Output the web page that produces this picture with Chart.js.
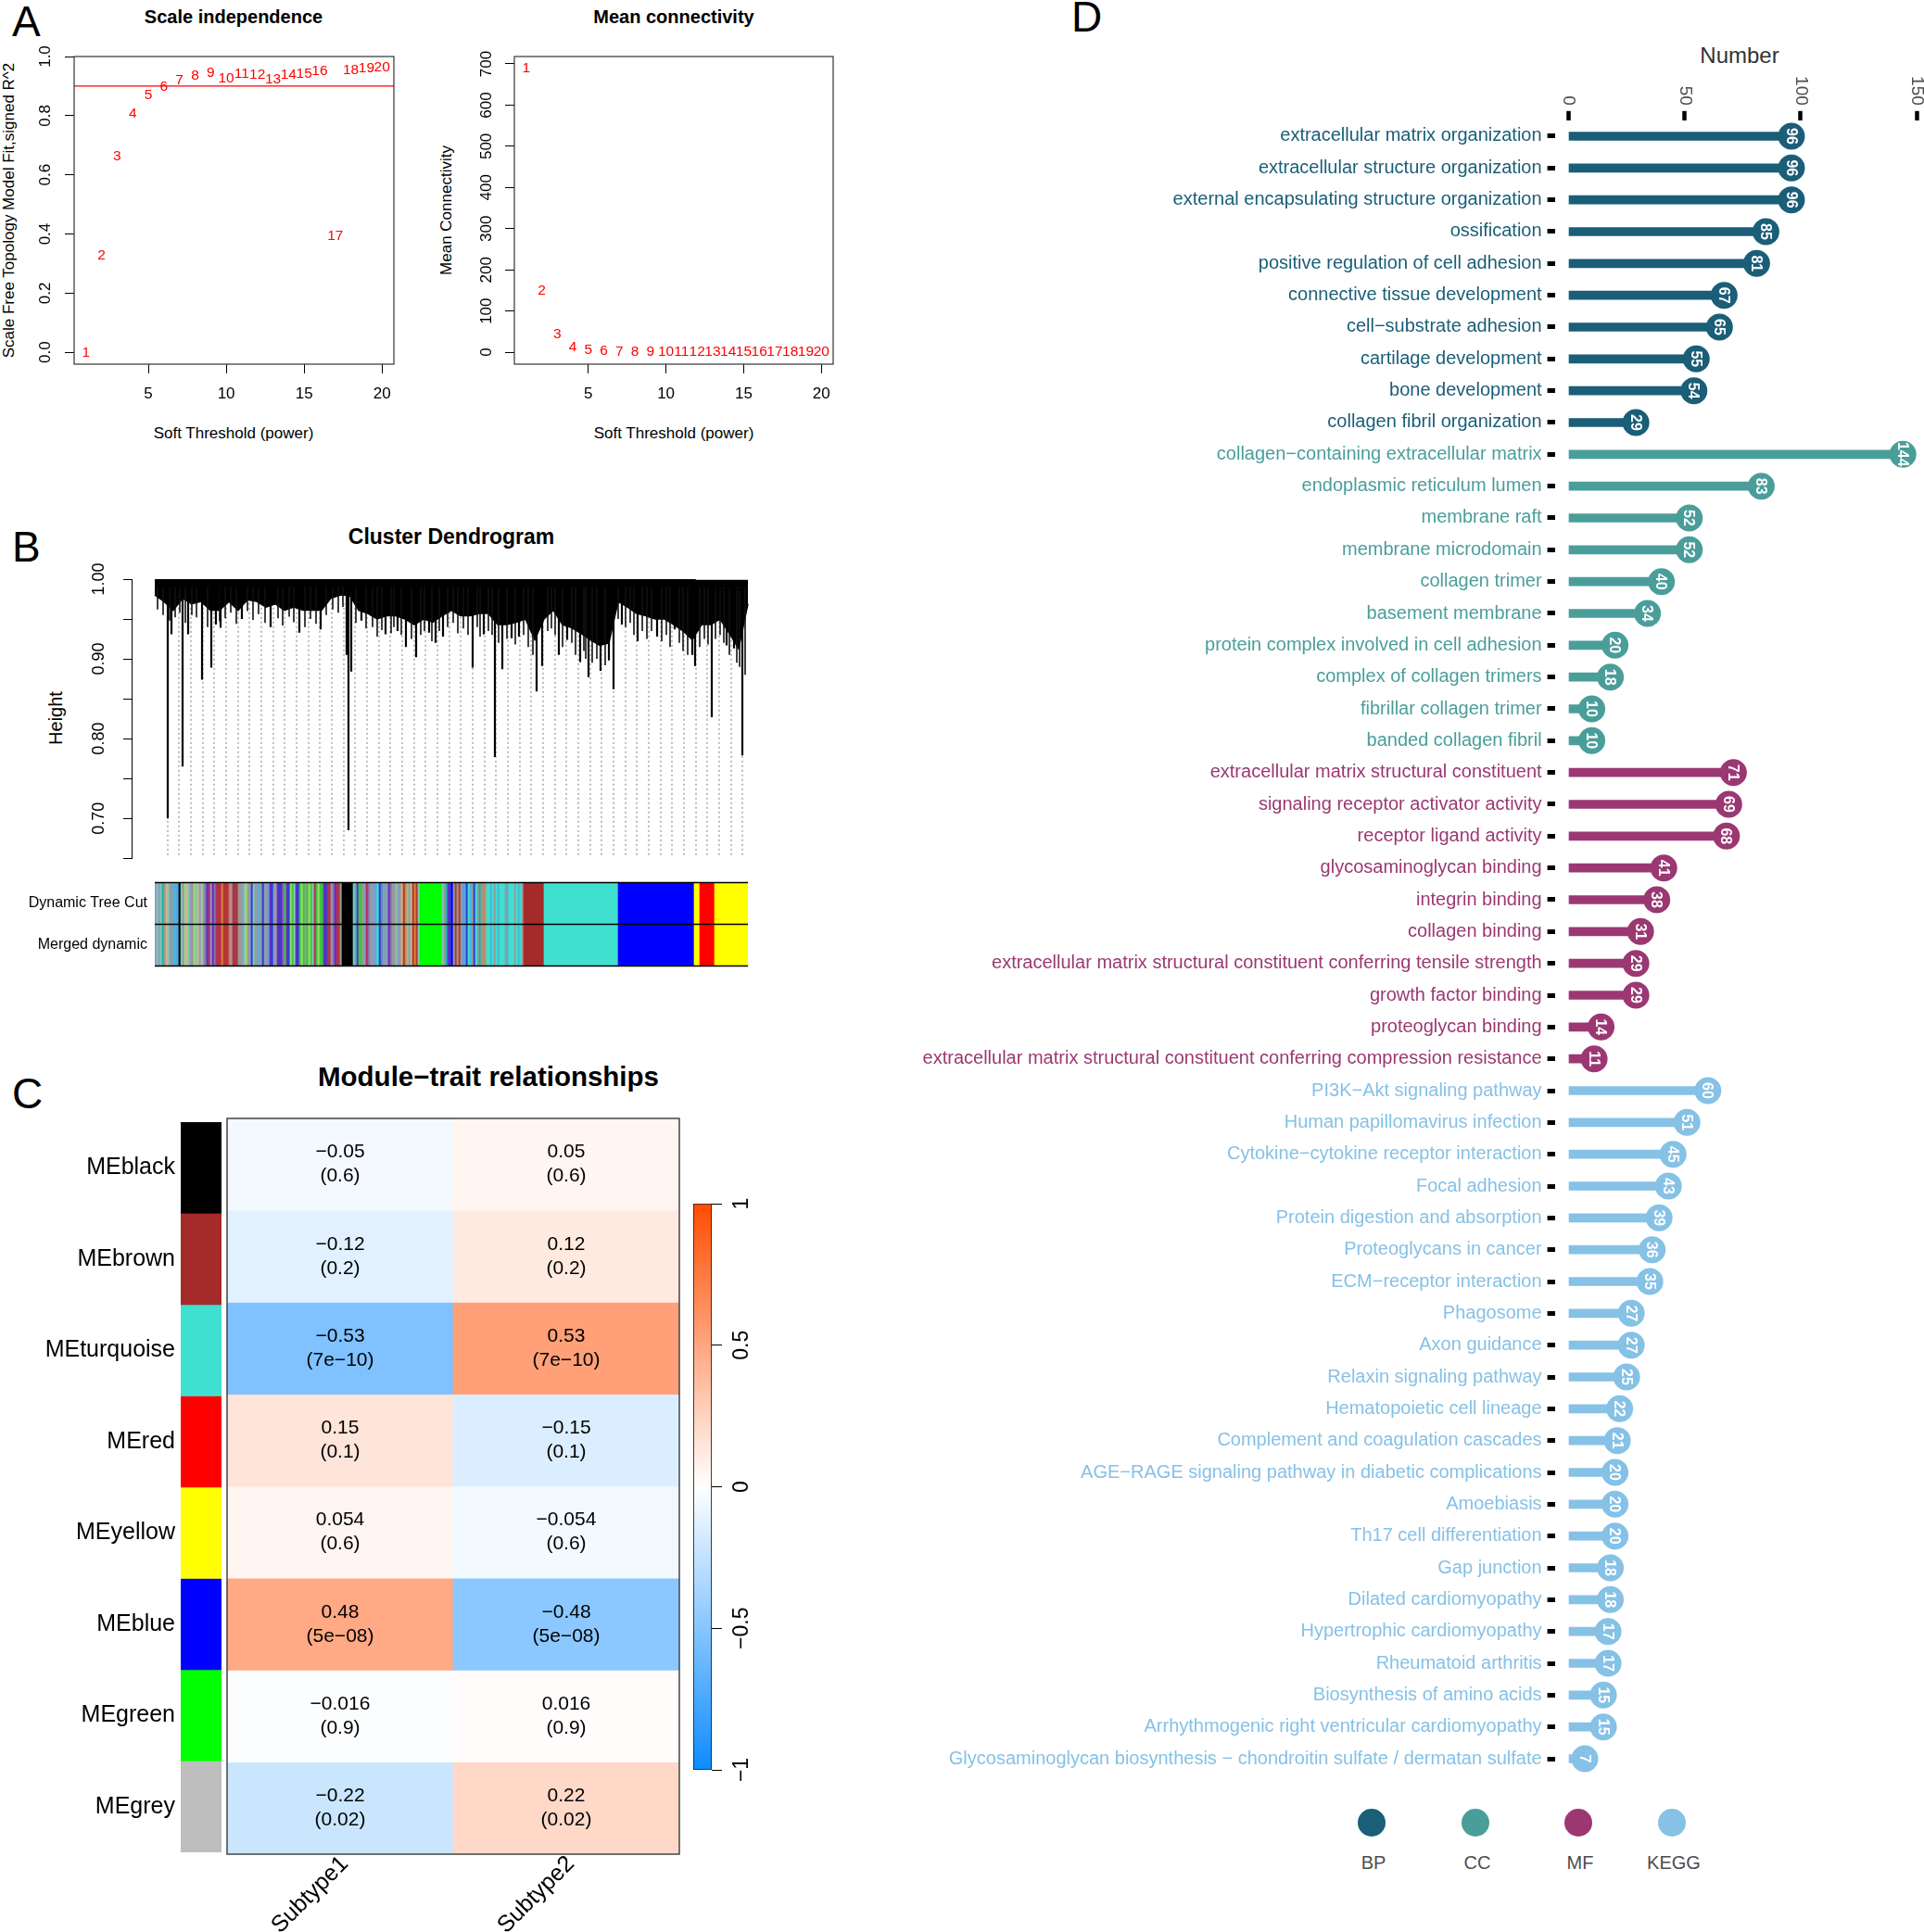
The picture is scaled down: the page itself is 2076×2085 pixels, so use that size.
<!DOCTYPE html>
<html>
<head>
<meta charset="utf-8">
<script src="https://cdn.jsdelivr.net/npm/chart.js@4.4.1/dist/chart.umd.min.js"></script>
<style>
body{margin:0;background:#fff;font-family:"Liberation Sans",Arial,Helvetica,sans-serif;}
#page{position:relative;width:2076px;height:2085px;overflow:hidden;background:#fff;}
canvas{position:absolute;}
.t{position:absolute;white-space:nowrap;line-height:1;color:#000;transform:translate(-50%,-50%);}
.rot{transform:translate(-50%,-50%) rotate(-90deg);}
.letter{position:absolute;font-size:46px;line-height:1;color:#000;}
.dot{position:absolute;width:30px;height:30px;border-radius:50%;transform:translate(-50%,-50%);}
</style>
</head>
<body>
<div id="page">
  <div class="letter" style="left:13px;top:0px">A</div>
  <div class="letter" style="left:13px;top:567px">B</div>
  <div class="letter" style="left:13px;top:1157px">C</div>
  <div class="letter" style="left:1156px;top:-5px">D</div>

  <div class="t" style="left:252px;top:18px;font-size:20px;font-weight:bold">Scale independence</div>
  <div class="t" style="left:727px;top:18px;font-size:20px;font-weight:bold">Mean connectivity</div>
  <div class="t rot" style="left:9px;top:227px;font-size:17px">Scale Free Topology Model Fit,signed R^2</div>
  <div class="t rot" style="left:481px;top:227px;font-size:17px">Mean Connectivity</div>
  <div class="t" style="left:252px;top:467px;font-size:17px">Soft Threshold (power)</div>
  <div class="t" style="left:727px;top:467px;font-size:17px">Soft Threshold (power)</div>

  <div class="t" style="left:487px;top:579px;font-size:23px;font-weight:bold">Cluster Dendrogram</div>
  <div class="t rot" style="left:60px;top:775px;font-size:20px">Height</div>

  <div class="t" style="left:527px;top:1162px;font-size:29.5px;font-weight:bold">Module−trait relationships</div>

  <div class="t" style="left:1877px;top:60px;font-size:24px;color:#333">Number</div>

  <canvas id="a1" width="460" height="500" style="left:0px;top:0px"></canvas>
  <canvas id="a2" width="460" height="500" style="left:475px;top:0px"></canvas>
  <canvas id="bTree" width="830" height="345" style="left:0px;top:600px"></canvas>
  <canvas id="bBars" width="830" height="125" style="left:0px;top:935px"></canvas>
  <canvas id="cSide" width="245" height="830" style="left:0px;top:1190px"></canvas>
  <canvas id="cHeat" width="510" height="895" style="left:240px;top:1190px"></canvas>
  <canvas id="cScale" width="90" height="650" style="left:740px;top:1280px"></canvas>
  <canvas id="dLolli" width="1176" height="1940" style="left:900px;top:0px"></canvas>
  <div id="dLegend"></div>
</div>
<script>
'use strict';
const FONT = '"Liberation Sans", Arial, Helvetica, sans-serif';
Chart.defaults.font.family = FONT;
Chart.defaults.color = '#000';
Chart.defaults.animation = false;
Chart.defaults.plugins.legend.display = false;
Chart.defaults.plugins.tooltip.enabled = false;

// ---------- A: soft threshold ----------
const powers = [1,2,3,4,5,6,7,8,9,10,11,12,13,14,15,16,17,18,19,20];
const sftR2 = [0.0,0.327,0.663,0.808,0.869,0.898,0.921,0.934,0.945,0.927,0.942,0.937,0.924,0.937,0.942,0.951,0.393,0.955,0.961,0.963];
const meanK = [690,150,43,13,6,3,1.5,1.0,0.8,0.6,0.5,0.4,0.3,0.3,0.2,0.2,0.2,0.1,0.1,0.1];
const r2Cutoff = 0.9;
const powerTicks = [5,10,15,20];
const r2Ticks = [0,0.2,0.4,0.6,0.8,1];
const kTicks = [0,100,200,300,400,500,600,700];

// ---------- B: dendrogram ----------
const massX = [0,10,20,30,40,50,60,70,80,90,100,110,120,130,140,150,160,170,180,190,200,210,220,230,240,250,260,270,280,290,300,310,320,330,340,350,360,370,380,390,400,410,420,430,440,450,460,470,480,490,500,510,520,530,540,550,560,570,580,590,600,610,620,630,640];
const massLow = [0.980,0.972,0.961,0.976,0.969,0.972,0.961,0.961,0.972,0.961,
  0.974,0.972,0.965,0.969,0.961,0.965,0.961,0.961,0.961,0.976,
  0.980,0.980,0.961,0.957,0.950,0.954,0.954,0.950,0.943,0.950,
  0.946,0.954,0.961,0.954,0.954,0.957,0.957,0.943,0.943,0.946,
  0.950,0.924,0.950,0.961,0.943,0.939,0.932,0.924,0.917,0.920,
  0.972,0.965,0.957,0.954,0.950,0.950,0.943,0.935,0.924,0.943,
  0.943,0.950,0.932,0.913,0.969];
// long branches hanging below the dense part
const spikeX = [14,18,30,36,51,61,66,71,94,125,156,179,207,209,212,223,249,262,271,282,296,303,311,343,355,367,375,385,393,412,418,436,445,459,468,481,490,495,504,521,542,561,580,583,601,617,625,634];
const spikeLow = [0.700,0.931,0.765,0.931,0.874,0.889,0.943,0.939,0.950,0.940,0.933,0.937,0.905,0.685,0.884,0.948,0.931,0.935,0.915,0.902,0.933,0.920,0.928,0.889,0.931,0.777,0.887,0.926,0.928,0.859,0.891,0.905,0.924,0.896,0.877,0.885,0.898,0.862,0.943,0.922,0.928,0.937,0.905,0.891,0.827,0.917,0.913,0.779];
// short leaves fringing the dense part
const fringeX = [3,9,16,22,27,33,40,45,57,70,76,82,88,100,106,112,119,133,138,145,150,162,168,174,185,192,198,203,217,228,235,240,245,255,258,266,277,287,291,299,307,316,322,327,333,338,348,351,360,364,371,380,389,398,403,408,424,428,432,440,450,454,463,465,472,477,486,500,508,513,517,526,531,536,547,552,556,566,570,575,588,593,597,605,610,614,620,628,631,637];
const fringeLow = [0.962,0.955,0.948,0.952,0.958,0.945,0.955,0.952,0.940,0.947,0.951,0.958,0.944,0.960,0.949,0.956,0.945,0.951,0.942,0.953,0.946,0.940,0.950,0.944,0.955,0.962,0.958,0.965,0.945,0.938,0.940,0.928,0.936,0.932,0.940,0.930,0.925,0.930,0.935,0.922,0.935,0.940,0.945,0.932,0.938,0.930,0.940,0.928,0.935,0.930,0.920,0.925,0.918,0.930,0.915,0.905,0.935,0.938,0.930,0.915,0.920,0.905,0.910,0.900,0.895,0.900,0.892,0.950,0.940,0.945,0.930,0.935,0.925,0.935,0.922,0.930,0.915,0.920,0.910,0.905,0.915,0.925,0.918,0.925,0.930,0.920,0.905,0.895,0.890,0.880];
const mergeX = [0,583,583,601,601,635,635];
const mergeH = [0.999,0.999,0.997,0.997,0.987,0.987,0.976];
const guideX = [14,26,39,52,64,77,90,102,115,128,140,153,166,178,191,204,216,229,242,254,267,280,292,305,318,330,343,356,368,381,394,406,419,432,444,457,470,482,495,508,520,533,546,558,571,584,596,609,622,634];
const heightTicks = [0.65,0.70,0.75,0.80,0.85,0.90,0.95,1.00];
const heightLabels = [0.70,0.80,0.90,1.00];

// module colour strip, one letter = one slice, [letters, repeat]
const stripeRuns = [
  ['acaczyncyaqqskcalncaylcnalavpmapvmrmorrmoarmryyaclyaBcyaqyBayspBaypBpvGpBlGcpBGlGyGlGcmGlGGpBmravpmry', 1],
  ['k', 6],
  ['cqpGGyamvyaaqtBvqyapvyycaynrocynrorc', 1],
  ['g', 12],
  ['cyzpBuyryryssBtqyBtyzyoyttqtytqtttyqtttytqty', 1],
  ['b', 11],
  ['t', 40],
  ['u', 41],
  ['Y', 3],
  ['R', 8],
  ['Y', 18]
];
const stripePalette = {
  a:'#8e9ac0', c:'#80c8b0', n:'#d2b48c', q:'#45b8d8', y:'#9a9a9a', m:'#b03060', r:'#b03a2e',
  o:'#e0803a', p:'#6a2cc0', G:'#3cc83c', B:'#2a3fd8', l:'#a0d870', v:'#8870b0', s:'#5fa0e0',
  z:'#20b2aa', k:'#000000', g:'#00ff00', b:'#a52a2a', t:'#40e0d0', u:'#0000ff', Y:'#ffff00', R:'#ff0000'
};
const stripeRows = ['Merged dynamic', 'Dynamic Tree Cut'];

// ---------- C: module-trait ----------
const moduleNames = ['MEblack','MEbrown','MEturquoise','MEred','MEyellow','MEblue','MEgreen','MEgrey'];
const moduleColors = ['#000000','#a52a2a','#40e0d0','#ff0000','#ffff00','#0000ff','#00ff00','#bebebe'];
const traitNames = ['Subtype1','Subtype2'];
const subtype1Corr = [-0.05,-0.12,-0.53,0.15,0.054,0.48,-0.016,-0.22];
const subtype2Corr = [0.05,0.12,0.53,-0.15,-0.054,-0.48,0.016,0.22];
const modulePValues = ['0.6','0.2','7e-10','0.1','0.6','5e-08','0.9','0.02'];
const scaleTicks = [-1,-0.5,0,0.5,1];

// ---------- D: enrichment ----------
const bpTerms = ['extracellular matrix organization','extracellular structure organization','external encapsulating structure organization','ossification','positive regulation of cell adhesion','connective tissue development','cell−substrate adhesion','cartilage development','bone development','collagen fibril organization'];
const bpCounts = [96,96,96,85,81,67,65,55,54,29];
const ccTerms = ['collagen−containing extracellular matrix','endoplasmic reticulum lumen','membrane raft','membrane microdomain','collagen trimer','basement membrane','protein complex involved in cell adhesion','complex of collagen trimers','fibrillar collagen trimer','banded collagen fibril'];
const ccCounts = [144,83,52,52,40,34,20,18,10,10];
const mfTerms = ['extracellular matrix structural constituent','signaling receptor activator activity','receptor ligand activity','glycosaminoglycan binding','integrin binding','collagen binding','extracellular matrix structural constituent conferring tensile strength','growth factor binding','proteoglycan binding','extracellular matrix structural constituent conferring compression resistance'];
const mfCounts = [71,69,68,41,38,31,29,29,14,11];
const keggTerms = ['PI3K−Akt signaling pathway','Human papillomavirus infection','Cytokine−cytokine receptor interaction','Focal adhesion','Protein digestion and absorption','Proteoglycans in cancer','ECM−receptor interaction','Phagosome','Axon guidance','Relaxin signaling pathway','Hematopoietic cell lineage','Complement and coagulation cascades','AGE−RAGE signaling pathway in diabetic complications','Amoebiasis','Th17 cell differentiation','Gap junction','Dilated cardiomyopathy','Hypertrophic cardiomyopathy','Rheumatoid arthritis','Biosynthesis of amino acids','Arrhythmogenic right ventricular cardiomyopathy','Glycosaminoglycan biosynthesis − chondroitin sulfate / dermatan sulfate'];
const keggCounts = [60,51,45,43,39,36,35,27,27,25,22,21,20,20,20,18,18,17,17,15,15,7];
const groupNames = ['BP','CC','MF','KEGG'];
const groupColors = {BP:'#1a5e77', CC:'#4a9e9a', MF:'#9b3873', KEGG:'#86c1e6'};
const numberTicks = [0,50,100,150];

// ================= helpers =================
const frame = {
  id: 'frame',
  afterDraw(chart, args, opts) {
    const {ctx, chartArea: a} = chart;
    ctx.save();
    ctx.strokeStyle = opts.color || '#000';
    ctx.lineWidth = opts.width || 1;
    ctx.strokeRect(a.left, a.top, a.right - a.left, a.bottom - a.top);
    ctx.restore();
  }
};
const fixedTicks = arr => s => { s.ticks = arr.map(v => ({value: v})); };
const minus = s => String(s).replace(/-/g, '−');

// ================= A =================
const powerLabels = {
  id: 'powerLabels',
  afterDatasetsDraw(chart) {
    const ctx = chart.ctx;
    const meta = chart.getDatasetMeta(0);
    ctx.save();
    ctx.fillStyle = '#ff0000';
    ctx.font = '15.5px ' + FONT;
    ctx.textAlign = 'center';
    ctx.textBaseline = 'middle';
    meta.data.forEach((el, i) => ctx.fillText(String(powers[i]), el.x, el.y));
    ctx.restore();
  }
};

function softChart(id, values, yMin, yMax, yTicks, yFmt, yPad, padRight, cutoff) {
  const datasets = [{
    data: powers.map((p, i) => ({x: p, y: values[i]})),
    showLine: false, pointRadius: 0
  }];
  if (cutoff !== null) {
    datasets.push({
      data: [{x: 0.24, y: cutoff}, {x: 20.76, y: cutoff}],
      showLine: true, borderColor: '#ff0000', borderWidth: 1.3, pointRadius: 0
    });
  }
  return new Chart(document.getElementById(id), {
    type: 'scatter',
    data: {datasets},
    options: {
      responsive: false,
      layout: {autoPadding: false, padding: {left: 0, top: 61, right: padRight, bottom: 0}},
      plugins: {frame: {color: '#333', width: 1.2}},
      scales: {
        x: {
          type: 'linear', min: 0.24, max: 20.76,
          afterBuildTicks: fixedTicks(powerTicks),
          afterFit: s => { s.height = 107; },
          border: {display: false},
          grid: {drawOnChartArea: false, tickLength: 10, tickColor: '#000'},
          ticks: {font: {size: 17}, padding: 12, maxRotation: 0, autoSkip: false}
        },
        y: {
          type: 'linear', min: yMin, max: yMax,
          afterBuildTicks: fixedTicks(yTicks),
          afterFit: s => { s.width = 80; },
          border: {display: false},
          grid: {drawOnChartArea: false, tickLength: 10, tickColor: '#000'},
          ticks: {font: {size: 17}, minRotation: 90, maxRotation: 90, crossAlign: 'center', padding: yPad, autoSkip: false, callback: yFmt}
        }
      }
    },
    plugins: [frame, powerLabels]
  });
}
softChart('a1', sftR2, -0.04, 1.0, r2Ticks, v => v.toFixed(1), 9, 35, r2Cutoff);
softChart('a2', meanK, -29, 718, kTicks, v => String(v), 6, 36, null);

// ================= B: dendrogram =================
const hang = (xs, lows, top) => xs.flatMap((x, i) => [{x, y: top}, {x, y: lows[i]}, {x, y: null}]);
new Chart(document.getElementById('bTree'), {
  type: 'line',
  data: {
    datasets: [
      {
        data: guideX.flatMap(x => [{x, y: 0.97}, {x, y: 0.654}, {x, y: null}]),
        borderColor: '#7a7a7a', borderWidth: 1, borderDash: [2, 3], pointRadius: 0, spanGaps: false, order: 5
      },
      {
        data: massX.map((x, i) => ({x, y: massLow[i]})),
        borderColor: '#000', backgroundColor: '#000', borderWidth: 1.5, pointRadius: 0,
        fill: {value: 0.999}, order: 4, clip: 8
      },
      {
        data: hang(fringeX, fringeLow, 0.99),
        borderColor: '#111', borderWidth: 1.6, pointRadius: 0, spanGaps: false, order: 3
      },
      {
        data: hang(spikeX, spikeLow, 0.99),
        borderColor: '#000', borderWidth: 2.2, pointRadius: 0, spanGaps: false, order: 2
      },
      {
        data: mergeX.map((x, i) => ({x, y: mergeH[i]})),
        borderColor: '#000', borderWidth: 1.5, pointRadius: 0, order: 1, clip: 8
      }
    ]
  },
  options: {
    responsive: false,
    layout: {autoPadding: false, padding: {left: 0, top: 25, right: 23, bottom: 5}},
    scales: {
      x: {type: 'linear', min: -25, max: 640, display: false},
      y: {
        type: 'linear', min: 0.65, max: 1.0,
        afterBuildTicks: fixedTicks(heightTicks),
        afterFit: s => { s.width = 142; },
        border: {display: true, color: '#000', width: 1},
        grid: {drawOnChartArea: false, tickLength: 9, tickColor: '#000'},
        ticks: {
          font: {size: 18}, minRotation: 90, maxRotation: 90, crossAlign: 'center', padding: 8, autoSkip: false,
          callback: v => heightLabels.some(h => Math.abs(h - v) < 1e-6) ? v.toFixed(2) : ''
        }
      }
    }
  }
});

// ================= B: colour strips =================
const stripeCodes = stripeRuns.map(r => r[0].repeat(r[1])).join('').split('');
const stripeLines = {
  id: 'stripeLines',
  afterDatasetsDraw(chart) {
    const {ctx, chartArea: a, scales} = chart;
    ctx.save();
    ctx.strokeStyle = '#000';
    ctx.lineWidth = 1.5;
    [0, 1, 2].forEach(v => {
      const y = scales.y.getPixelForValue(v);
      ctx.beginPath(); ctx.moveTo(a.left, y); ctx.lineTo(a.right, y); ctx.stroke();
    });
    ctx.restore();
  }
};
new Chart(document.getElementById('bBars'), {
  type: 'bar',
  data: {
    labels: stripeCodes.map((c, i) => i),
    datasets: stripeRows.map((row, r) => ({
      label: row,
      data: stripeCodes.map(() => [r, r + 1]),
      backgroundColor: stripeCodes.map(c => stripePalette[c]),
      borderWidth: 0, grouped: false, barPercentage: 1, categoryPercentage: 1
    }))
  },
  options: {
    responsive: false,
    layout: {autoPadding: false, padding: {left: 0, top: 5, right: 23, bottom: 11}},
    scales: {
      x: {display: false},
      y: {
        type: 'linear', min: 0, max: 2,
        afterBuildTicks: fixedTicks([0.5, 1.5]),
        afterFit: s => { s.width = 167; },
        border: {display: false},
        grid: {display: false, drawTicks: false},
        ticks: {font: {size: 16}, padding: 8, callback: v => stripeRows[Math.floor(v)]}
      }
    }
  },
  plugins: [stripeLines]
});

// ================= C: module-trait heatmap =================
function corrColor(v) {
  const t = Math.max(-1, Math.min(1, v));
  const end = t < 0 ? [0.05, 0.55, 1.0] : [1.0, 0.3, 0.0];
  const a = Math.abs(t);
  const c = end.map(e => Math.round(255 * (1 + (e - 1) * a)));
  return `rgb(${c[0]},${c[1]},${c[2]})`;
}
const traitCorr = [subtype1Corr, subtype2Corr];

new Chart(document.getElementById('cSide'), {
  type: 'bar',
  data: {
    labels: ['module'],
    datasets: moduleNames.map((m, i) => ({
      label: m, data: [[i, i + 1]], backgroundColor: moduleColors[i],
      borderWidth: 0, grouped: false, barPercentage: 1, categoryPercentage: 1
    }))
  },
  options: {
    responsive: false,
    layout: {autoPadding: false, padding: {left: 0, top: 17, right: 6, bottom: 19}},
    scales: {
      x: {display: false},
      y: {
        type: 'linear', min: 0, max: 8, reverse: true,
        afterBuildTicks: fixedTicks([0.5, 1.5, 2.5, 3.5, 4.5, 5.5, 6.5, 7.5]),
        afterFit: s => { s.width = 195; },
        border: {display: false},
        grid: {display: false, drawTicks: false},
        ticks: {font: {size: 25}, padding: 6, autoSkip: false, callback: v => moduleNames[Math.floor(v)]}
      }
    }
  }
});

const cellText = {
  id: 'cellText',
  afterDatasetsDraw(chart) {
    const ctx = chart.ctx;
    ctx.save();
    ctx.font = '21px ' + FONT;
    ctx.fillStyle = '#000';
    ctx.textAlign = 'center';
    ctx.textBaseline = 'middle';
    moduleNames.forEach((m, i) => {
      chart.getDatasetMeta(i).data.forEach((bar, j) => {
        const cy = (bar.y + bar.base) / 2;
        ctx.fillText(minus(traitCorr[j][i]), bar.x, cy - 13);
        ctx.fillText('(' + minus(modulePValues[i]) + ')', bar.x, cy + 13);
      });
    });
    ctx.restore();
  }
};
new Chart(document.getElementById('cHeat'), {
  type: 'bar',
  data: {
    labels: traitNames,
    datasets: moduleNames.map((m, i) => ({
      label: m,
      data: traitNames.map(() => [i, i + 1]),
      backgroundColor: traitNames.map((t, j) => corrColor(traitCorr[j][i])),
      borderWidth: 0, grouped: false, barPercentage: 1, categoryPercentage: 1
    }))
  },
  options: {
    responsive: false,
    layout: {autoPadding: false, padding: {left: 5, top: 17, right: 17, bottom: 0}},
    plugins: {frame: {color: '#444', width: 1.5}},
    scales: {
      x: {
        afterFit: s => { s.height = 84; },
        border: {display: false},
        grid: {display: false, drawTicks: false},
        ticks: {font: {size: 25}, minRotation: 45, maxRotation: 45, padding: -4, labelOffset: 5}
      },
      y: {type: 'linear', min: 0, max: 8, reverse: true, display: false}
    }
  },
  plugins: [cellText, frame]
});

new Chart(document.getElementById('cScale'), {
  type: 'bar',
  data: {
    labels: ['scale'],
    datasets: [{
      data: [[-1, 1]],
      backgroundColor: c => {
        const chart = c.chart;
        if (!chart.chartArea) return '#ffffff';
        const ys = chart.scales.y;
        const g = chart.ctx.createLinearGradient(0, ys.getPixelForValue(-1), 0, ys.getPixelForValue(1));
        [-1, 0, 1].forEach(v => g.addColorStop((v + 1) / 2, corrColor(v)));
        return g;
      },
      borderColor: '#222', borderWidth: 1.2, borderSkipped: false,
      barPercentage: 1, categoryPercentage: 1
    }]
  },
  options: {
    responsive: false,
    layout: {autoPadding: false, padding: {left: 8, top: 19, right: 0, bottom: 20}},
    scales: {
      x: {display: false},
      y: {
        position: 'right', type: 'linear', min: -1, max: 1,
        afterBuildTicks: fixedTicks(scaleTicks),
        afterFit: s => { s.width = 62; },
        border: {display: false},
        grid: {drawOnChartArea: false, tickLength: 11, tickColor: '#000'},
        ticks: {font: {size: 23}, minRotation: 90, maxRotation: 90, crossAlign: 'center', padding: -1, callback: v => minus(v)}
      }
    }
  }
});

// ================= D: lollipop =================
const termNames = bpTerms.concat(ccTerms, mfTerms, keggTerms);
const termCounts = bpCounts.concat(ccCounts, mfCounts, keggCounts);
const termGroups = [].concat(
  bpTerms.map(() => 'BP'), ccTerms.map(() => 'CC'), mfTerms.map(() => 'MF'), keggTerms.map(() => 'KEGG'));
const termColors = termGroups.map(g => groupColors[g]);

const countLabels = {
  id: 'countLabels',
  afterDatasetsDraw(chart) {
    const ctx = chart.ctx;
    ctx.save();
    ctx.fillStyle = '#fff';
    ctx.font = 'bold 16px ' + FONT;
    ctx.textAlign = 'center';
    ctx.textBaseline = 'middle';
    chart.getDatasetMeta(0).data.forEach((pt, i) => {
      ctx.save();
      ctx.translate(pt.x, pt.y);
      ctx.rotate(Math.PI / 2);
      ctx.fillText(String(termCounts[i]), 0, 1);
      ctx.restore();
    });
    ctx.restore();
  }
};
const topTickLabels = {
  id: 'topTickLabels',
  afterDraw(chart) {
    const ctx = chart.ctx;
    const s = chart.scales.x;
    ctx.save();
    ctx.fillStyle = '#4d4d4d';
    ctx.font = '19px ' + FONT;
    ctx.textAlign = 'right';
    ctx.textBaseline = 'middle';
    numberTicks.forEach(v => {
      ctx.save();
      ctx.translate(s.getPixelForValue(v), s.bottom - 16);
      ctx.rotate(Math.PI / 2);
      ctx.fillText(String(v), 0, 0);
      ctx.restore();
    });
    ctx.restore();
  }
};
new Chart(document.getElementById('dLolli'), {
  type: 'bar',
  data: {
    labels: termNames,
    datasets: [
      {
        type: 'line', data: termCounts, showLine: false,
        pointRadius: 14.5, pointHoverRadius: 14.5, pointBorderWidth: 0,
        pointBackgroundColor: termColors, order: 0, clip: false
      },
      {
        type: 'bar', data: termCounts, backgroundColor: termColors,
        barThickness: 9, borderWidth: 0, order: 1
      }
    ]
  },
  options: {
    responsive: false,
    indexAxis: 'y',
    layout: {autoPadding: false, padding: {left: 0, top: 0, right: 0, bottom: 24.8}},
    scales: {
      x: {
        position: 'top', type: 'linear', min: -5.95, max: 153.1,
        afterBuildTicks: fixedTicks(numberTicks),
        afterFit: s => { s.height = 129.8; },
        border: {display: false},
        grid: {drawOnChartArea: false, tickLength: 10, tickWidth: 4.5, tickColor: '#000'},
        ticks: {display: false}
      },
      y: {
        afterFit: s => { s.width = 777.6; },
        border: {display: false},
        grid: {offset: false, drawOnChartArea: false, tickLength: 8, tickWidth: 5, tickColor: '#000'},
        ticks: {font: {size: 20}, padding: 6, autoSkip: false, color: c => termColors[c.index]}
      }
    }
  },
  plugins: [countLabels, topTickLabels]
});

// legend of panel D
const legendX = [1480, 1592, 1703, 1804];
const legendBox = document.getElementById('dLegend');
groupNames.forEach((g, i) => {
  const dot = document.createElement('div');
  dot.className = 'dot';
  dot.style.left = legendX[i] + 'px';
  dot.style.top = '1967px';
  dot.style.background = groupColors[g];
  legendBox.appendChild(dot);
  const lab = document.createElement('div');
  lab.className = 't';
  lab.style.left = (legendX[i] + 2) + 'px';
  lab.style.top = '2010px';
  lab.style.fontSize = '20px';
  lab.style.color = '#4d4d4d';
  lab.textContent = g;
  legendBox.appendChild(lab);
});
</script>
</body>
</html>
